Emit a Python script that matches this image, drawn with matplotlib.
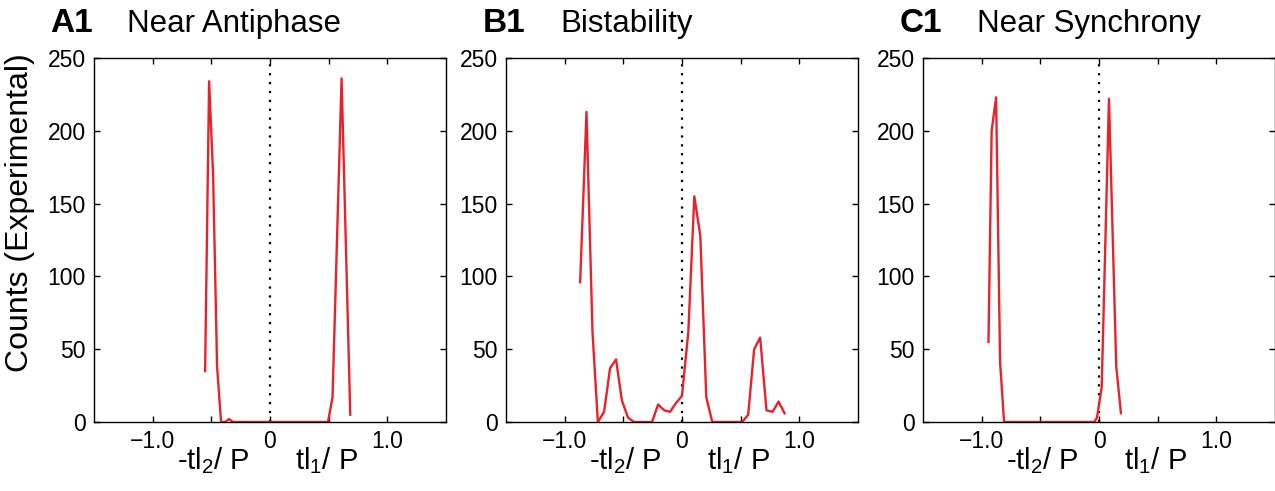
import numpy as np
import matplotlib
matplotlib.use("Agg")
import matplotlib.pyplot as plt
import matplotlib.transforms as mtransforms

plt.rcParams['font.family'] = ['Liberation Sans', 'DejaVu Sans']
plt.rcParams['mathtext.fontset'] = 'custom'
plt.rcParams['mathtext.rm'] = 'Liberation Sans'
plt.rcParams['mathtext.default'] = 'regular'

# phase histograms (counts vs normalised time lag)
a_x = [-0.553, -0.519, -0.485, -0.451, -0.417, -0.383, -0.349, -0.315, 0.494, 0.533, 0.610, 0.684]
a_y = [35, 234, 170, 38, 0, 0, 2, 0, 0, 17, 236, 5]

b_x = [-0.868, -0.814, -0.763, -0.717, -0.664, -0.613, -0.562, -0.513, -0.460, -0.409,
       -0.255, -0.204, -0.151, -0.102, -0.051, 0.0, 0.054, 0.105, 0.156, 0.207, 0.258,
       0.513, 0.564, 0.615, 0.666, 0.720, 0.772, 0.823, 0.874]
b_y = [96, 213, 62, 0, 7, 37, 43, 15, 3, 0,
       0, 12, 8, 7, 13, 18, 62, 155, 128, 17, 0,
       0, 5, 50, 58, 8, 7, 14, 6]

c_x = [-0.942, -0.915, -0.877, -0.843, -0.809, -0.040, -0.017, 0.023, 0.085, 0.147, 0.187]
c_y = [55, 200, 223, 41, 0, 0, 3, 24, 222, 38, 6]

panels = [('A1', 'Near Antiphase', a_x, a_y),
          ('B1', 'Bistability', b_x, b_y),
          ('C1', 'Near Synchrony', c_x, c_y)]

ax_left = [94, 506, 923]      # px
letter_x = [50, 483, 900]     # px
title_x = [127, 560, 977]     # px

W, H = 1275, 491
fig = plt.figure(figsize=(W / 100, H / 100), dpi=100)

for k, (tag, title, xs, ys) in enumerate(panels):
    ax = fig.add_axes([ax_left[k] / W, 69 / H, 352 / W, 364 / H])
    ax.axvline(0, color='black', linestyle=(0, (1, 3)), linewidth=1.6, zorder=1)
    ax.plot(xs, ys, color='#e8222a', linewidth=1.7, zorder=2)
    ax.set_xlim(-1.5, 1.5)
    ax.set_ylim(0, 250)
    ax.set_xticks([-1.0, -0.5, 0, 0.5, 1.0])
    ax.set_xticklabels(['\u22121.0', '', '0', '', '1.0'])
    ax.set_yticks([0, 50, 100, 150, 200, 250])
    ax.tick_params(direction='in', top=True, right=True, length=4, width=1,
                   labelsize=16.5, pad=6)
    for s in ax.spines.values():
        s.set_linewidth(1.0)

    trans = mtransforms.blended_transform_factory(ax.transData, ax.transAxes)
    ax.text(-0.48, -0.107, r'-tl$_2$/ P', transform=trans, ha='center', va='center', fontsize=21)
    ax.text(0.48, -0.107, r'tl$_1$/ P', transform=trans, ha='center', va='center', fontsize=21)

    fig.text(letter_x[k] / W, 1 - 32 / H, tag, fontsize=24, fontweight='bold', va='baseline')
    fig.text(title_x[k] / W, 1 - 32 / H, title, fontsize=22.5, va='baseline')

fig.text(20 / W, 1 - 213 / H, 'Counts (Experimental)', rotation=90, fontsize=23,
         ha='center', va='center')

fig.savefig('out.png', dpi=100)
